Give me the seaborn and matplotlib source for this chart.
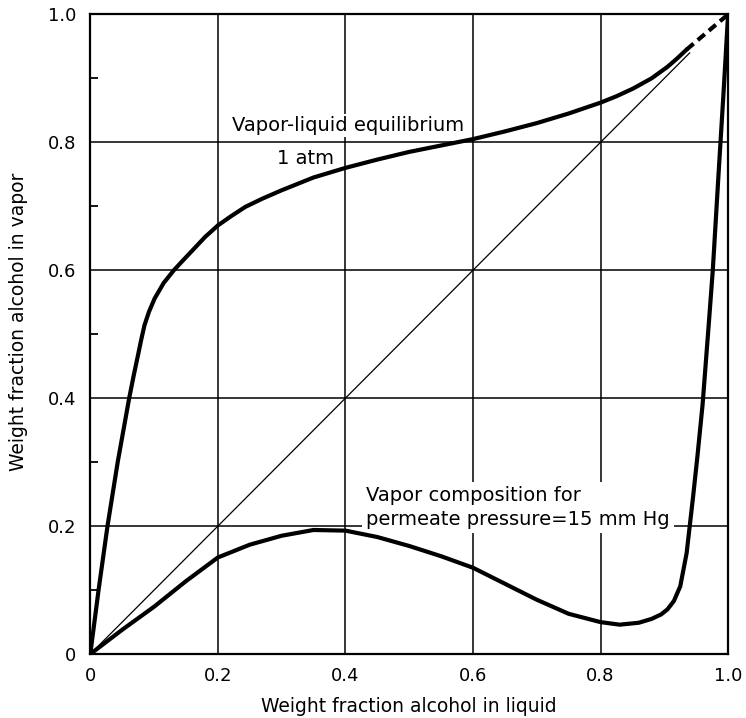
import numpy as np
import pandas as pd
import matplotlib
matplotlib.use("Agg")
import matplotlib.pyplot as plt
import seaborn as sns

# Vapor-liquid equilibrium at 1 atm (solid part, then dashed to the azeotrope corner)
vle_x = [0, 0.013, 0.027, 0.043, 0.061, 0.068, 0.075, 0.080, 0.085, 0.092, 0.101,
         0.115, 0.131, 0.145, 0.163, 0.18, 0.2, 0.22, 0.243, 0.27, 0.3, 0.35, 0.4,
         0.45, 0.5, 0.55, 0.6, 0.65, 0.7, 0.75, 0.8, 0.825, 0.851, 0.88, 0.905,
         0.92, 0.935]
vle_y = [0, 0.1, 0.2, 0.3, 0.4, 0.435, 0.468, 0.492, 0.514, 0.535, 0.556,
         0.58, 0.6, 0.615, 0.634, 0.652, 0.67, 0.684, 0.699, 0.712, 0.725, 0.745,
         0.76, 0.773, 0.785, 0.795, 0.805, 0.817, 0.83, 0.845, 0.862, 0.872, 0.884,
         0.9, 0.918, 0.931, 0.945]
vle_dash_x = [0.935, 1.0]
vle_dash_y = [0.945, 1.0]

# Vapor composition for permeate pressure = 15 mm Hg
perm_x = [0, 0.05, 0.1, 0.15, 0.2, 0.25, 0.3, 0.35, 0.4, 0.45, 0.5, 0.55, 0.6,
          0.65, 0.7, 0.75, 0.8, 0.83, 0.86, 0.88, 0.895, 0.905, 0.915, 0.925,
          0.935, 0.945, 0.952, 0.96, 0.97, 0.976, 0.985, 0.993, 1.0]
perm_y = [0, 0.038, 0.074, 0.114, 0.151, 0.171, 0.185, 0.194, 0.193, 0.183, 0.169,
          0.153, 0.135, 0.11, 0.085, 0.063, 0.05, 0.046, 0.049, 0.055, 0.062, 0.07,
          0.083, 0.106, 0.158, 0.245, 0.31, 0.39, 0.52, 0.6, 0.75, 0.88, 1.0]

# 45-degree reference line
diag_x = [0, 0.94]
diag_y = [0, 0.94]

ticks = [0, 0.2, 0.4, 0.6, 0.8, 1.0]
tick_labels = ["0", "0.2", "0.4", "0.6", "0.8", "1.0"]

sns.set_theme(style="white")
plt.rcParams["font.family"] = ["DejaVu Sans"]
plt.rcParams["text.color"] = "black"
plt.rcParams["axes.labelcolor"] = "black"

fig = plt.figure(figsize=(7.46, 7.18), dpi=100)
ax = fig.add_axes([0.121, 0.089, 0.855, 0.891])

vle = pd.DataFrame({"x": vle_x, "y": vle_y})
perm = pd.DataFrame({"x": perm_x, "y": perm_y})

ax.plot(diag_x, diag_y, color="black", lw=0.9, zorder=2)
sns.lineplot(data=vle, x="x", y="y", ax=ax, color="black", lw=3.0,
             sort=False, estimator=None, zorder=3)
ax.plot(vle_dash_x, vle_dash_y, color="black", lw=3.0, ls=(0, (2.2, 1.3)), zorder=3)
sns.lineplot(data=perm, x="x", y="y", ax=ax, color="black", lw=3.0,
             sort=False, estimator=None, zorder=3)

ax.set_xlim(0, 1)
ax.set_ylim(0, 1)
ax.set_xticks(ticks)
ax.set_xticklabels(tick_labels)
ax.set_yticks(ticks)
ax.set_yticklabels(tick_labels)
ax.set_yticks([0.1, 0.3, 0.5, 0.7, 0.9], minor=True)
ax.grid(True, which="major", color="black", lw=1.1)
ax.tick_params(axis="both", which="major", length=0, labelsize=13, colors="black")
ax.tick_params(axis="x", which="major", pad=9)
ax.tick_params(axis="y", which="major", pad=10)
ax.tick_params(axis="y", which="minor", left=True, direction="in", length=6,
               width=1.3, color="black")
for s in ax.spines.values():
    s.set_color("black")
    s.set_linewidth(1.6)

ax.set_xlabel("Weight fraction alcohol in liquid", fontsize=13.5, color="black",
              labelpad=9)
ax.set_ylabel("Weight fraction alcohol in vapor", fontsize=13.5, color="black",
              labelpad=16)
ax.yaxis.set_label_coords(-0.097, 0.52)

# Labels sit on white patches above the grid but beneath the curves
box = dict(facecolor="white", edgecolor="none", pad=1.5)
ax.text(0.222, 0.826, "Vapor-liquid equilibrium", fontsize=14, ha="left",
        va="center", color="black", bbox=box, zorder=2.5)
ax.text(0.382, 0.774, "1 atm", fontsize=14, ha="right", va="center",
        color="black", bbox=box, zorder=2.5)
ax.text(0.432, 0.229, "Vapor composition for\npermeate pressure=15 mm Hg",
        fontsize=14, ha="left", va="center", linespacing=1.35, color="black",
        bbox=dict(facecolor="white", edgecolor="none", pad=3), zorder=2.5)

fig.savefig("out.png", dpi=100)
